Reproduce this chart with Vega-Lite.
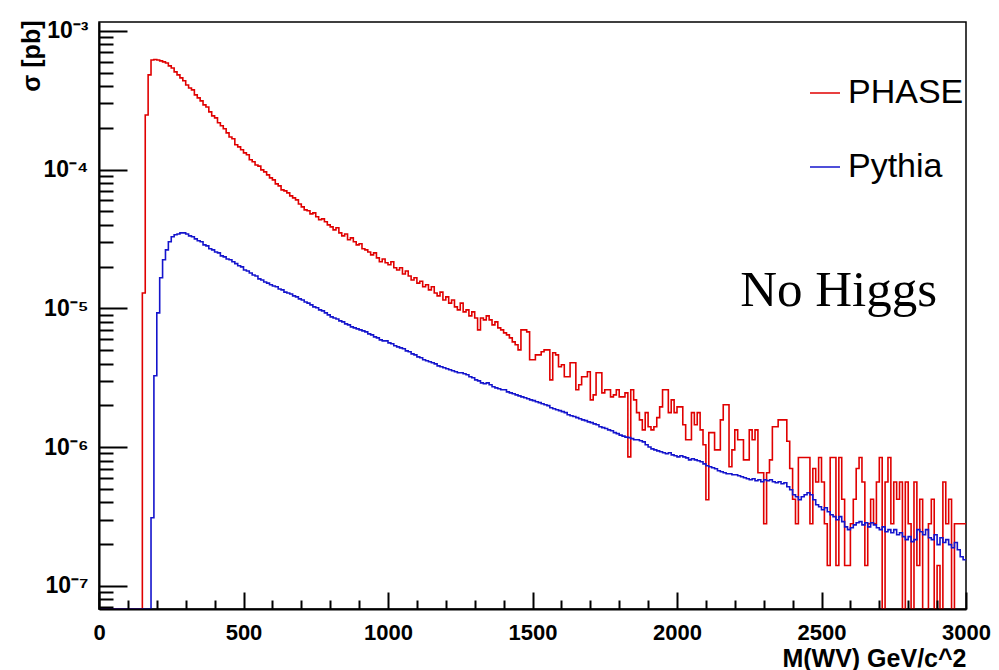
{
  "$schema": "https://vega.github.io/schema/vega-lite/v6.json",
  "width": 867,
  "height": 587,
  "autosize": {"type": "none"},
  "padding": {"left": 99, "top": 22, "right": 33, "bottom": 61},
  "background": "white",
  "config": {"view": {"stroke": "black", "strokeWidth": 1.5}, "font": "Liberation Sans"},
  "datasets": {
    "bins": [
{"m":0,"PHASE":6.8e-8,"Pythia":6.8e-8},{"m":10,"PHASE":6.8e-8,"Pythia":6.8e-8},{"m":20,"PHASE":6.8e-8,"Pythia":6.8e-8},{"m":30,"PHASE":6.8e-8,"Pythia":6.8e-8},{"m":40,"PHASE":6.8e-8,"Pythia":6.8e-8},{"m":50,"PHASE":6.8e-8,"Pythia":6.8e-8},{"m":60,"PHASE":6.8e-8,"Pythia":6.8e-8},{"m":70,"PHASE":6.8e-8,"Pythia":6.8e-8},{"m":80,"PHASE":6.8e-8,"Pythia":6.8e-8},{"m":90,"PHASE":6.8e-8,"Pythia":6.8e-8},
{"m":100,"PHASE":6.8e-8,"Pythia":6.8e-8},{"m":110,"PHASE":6.8e-8,"Pythia":6.8e-8},{"m":120,"PHASE":6.8e-8,"Pythia":6.8e-8},{"m":130,"PHASE":6.8e-8,"Pythia":6.8e-8},{"m":140,"PHASE":6.8e-8,"Pythia":6.8e-8},{"m":150,"PHASE":1.29e-5,"Pythia":6.8e-8},{"m":160,"PHASE":2.48e-4,"Pythia":6.8e-8},{"m":170,"PHASE":4.82e-4,"Pythia":6.8e-8},{"m":180,"PHASE":6.18e-4,"Pythia":3.09e-7},{"m":190,"PHASE":6.22e-4,"Pythia":3.27e-6},
{"m":200,"PHASE":6.18e-4,"Pythia":9.27e-6},{"m":210,"PHASE":6.08e-4,"Pythia":1.66e-5},{"m":220,"PHASE":5.98e-4,"Pythia":2.24e-5},{"m":230,"PHASE":5.88e-4,"Pythia":2.64e-5},{"m":240,"PHASE":5.60e-4,"Pythia":3.02e-5},{"m":250,"PHASE":5.41e-4,"Pythia":3.28e-5},{"m":260,"PHASE":5.07e-4,"Pythia":3.39e-5},{"m":270,"PHASE":4.82e-4,"Pythia":3.44e-5},{"m":280,"PHASE":4.59e-4,"Pythia":3.50e-5},{"m":290,"PHASE":4.37e-4,"Pythia":3.50e-5},
{"m":300,"PHASE":4.08e-4,"Pythia":3.44e-5},{"m":310,"PHASE":3.88e-4,"Pythia":3.33e-5},{"m":320,"PHASE":3.76e-4,"Pythia":3.28e-5},{"m":330,"PHASE":3.46e-4,"Pythia":3.17e-5},{"m":340,"PHASE":3.29e-4,"Pythia":3.07e-5},{"m":350,"PHASE":3.13e-4,"Pythia":3.02e-5},{"m":360,"PHASE":2.93e-4,"Pythia":2.87e-5},{"m":370,"PHASE":2.83e-4,"Pythia":2.82e-5},{"m":380,"PHASE":2.61e-4,"Pythia":2.69e-5},{"m":390,"PHASE":2.44e-4,"Pythia":2.64e-5},
{"m":400,"PHASE":2.36e-4,"Pythia":2.55e-5},{"m":410,"PHASE":2.18e-4,"Pythia":2.51e-5},{"m":420,"PHASE":2.07e-4,"Pythia":2.39e-5},{"m":430,"PHASE":1.97e-4,"Pythia":2.35e-5},{"m":440,"PHASE":1.84e-4,"Pythia":2.27e-5},{"m":450,"PHASE":1.72e-4,"Pythia":2.24e-5},{"m":460,"PHASE":1.67e-4,"Pythia":2.17e-5},{"m":470,"PHASE":1.51e-4,"Pythia":2.10e-5},{"m":480,"PHASE":1.46e-4,"Pythia":2.03e-5},{"m":490,"PHASE":1.39e-4,"Pythia":1.99e-5},
{"m":500,"PHASE":1.32e-4,"Pythia":1.89e-5},{"m":510,"PHASE":1.28e-4,"Pythia":1.86e-5},{"m":520,"PHASE":1.18e-4,"Pythia":1.80e-5},{"m":530,"PHASE":1.14e-4,"Pythia":1.74e-5},{"m":540,"PHASE":1.08e-4,"Pythia":1.71e-5},{"m":550,"PHASE":1.06e-4,"Pythia":1.63e-5},{"m":560,"PHASE":9.96e-5,"Pythia":1.60e-5},{"m":570,"PHASE":9.63e-5,"Pythia":1.55e-5},{"m":580,"PHASE":9.17e-5,"Pythia":1.52e-5},{"m":590,"PHASE":8.72e-5,"Pythia":1.48e-5},
{"m":600,"PHASE":8.44e-5,"Pythia":1.45e-5},{"m":610,"PHASE":7.90e-5,"Pythia":1.43e-5},{"m":620,"PHASE":7.64e-5,"Pythia":1.38e-5},{"m":630,"PHASE":7.15e-5,"Pythia":1.36e-5},{"m":640,"PHASE":7.03e-5,"Pythia":1.31e-5},{"m":650,"PHASE":6.80e-5,"Pythia":1.29e-5},{"m":660,"PHASE":6.47e-5,"Pythia":1.27e-5},{"m":670,"PHASE":6.26e-5,"Pythia":1.23e-5},{"m":680,"PHASE":6.05e-5,"Pythia":1.21e-5},{"m":690,"PHASE":5.66e-5,"Pythia":1.17e-5},
{"m":700,"PHASE":5.39e-5,"Pythia":1.15e-5},{"m":710,"PHASE":5.13e-5,"Pythia":1.11e-5},{"m":720,"PHASE":5.05e-5,"Pythia":1.09e-5},{"m":730,"PHASE":4.80e-5,"Pythia":1.06e-5},{"m":740,"PHASE":4.88e-5,"Pythia":1.025e-5},{"m":750,"PHASE":4.57e-5,"Pythia":1.01e-5},{"m":760,"PHASE":4.35e-5,"Pythia":9.75e-6},{"m":770,"PHASE":4.42e-5,"Pythia":9.59e-6},{"m":780,"PHASE":4.21e-5,"Pythia":9.27e-6},{"m":790,"PHASE":4.00e-5,"Pythia":8.97e-6},
{"m":800,"PHASE":3.87e-5,"Pythia":8.68e-6},{"m":810,"PHASE":3.68e-5,"Pythia":8.53e-6},{"m":820,"PHASE":3.81e-5,"Pythia":8.39e-6},{"m":830,"PHASE":3.50e-5,"Pythia":8.12e-6},{"m":840,"PHASE":3.33e-5,"Pythia":7.99e-6},{"m":850,"PHASE":3.44e-5,"Pythia":7.73e-6},{"m":860,"PHASE":3.12e-5,"Pythia":7.60e-6},{"m":870,"PHASE":3.22e-5,"Pythia":7.35e-6},{"m":880,"PHASE":3.02e-5,"Pythia":7.23e-6},{"m":890,"PHASE":2.87e-5,"Pythia":7.11e-6},
{"m":900,"PHASE":2.92e-5,"Pythia":7.00e-6},{"m":910,"PHASE":2.69e-5,"Pythia":6.88e-6},{"m":920,"PHASE":2.64e-5,"Pythia":6.77e-6},{"m":930,"PHASE":2.55e-5,"Pythia":6.55e-6},{"m":940,"PHASE":2.43e-5,"Pythia":6.44e-6},{"m":950,"PHASE":2.51e-5,"Pythia":6.23e-6},{"m":960,"PHASE":2.31e-5,"Pythia":6.13e-6},{"m":970,"PHASE":2.17e-5,"Pythia":5.93e-6},{"m":980,"PHASE":2.27e-5,"Pythia":5.83e-6},{"m":990,"PHASE":2.13e-5,"Pythia":5.83e-6},
{"m":1000,"PHASE":2.06e-5,"Pythia":5.64e-6},{"m":1010,"PHASE":2.17e-5,"Pythia":5.55e-6},{"m":1020,"PHASE":1.96e-5,"Pythia":5.37e-6},{"m":1030,"PHASE":1.89e-5,"Pythia":5.28e-6},{"m":1040,"PHASE":1.96e-5,"Pythia":5.19e-6},{"m":1050,"PHASE":1.77e-5,"Pythia":5.11e-6},{"m":1060,"PHASE":1.86e-5,"Pythia":4.94e-6},{"m":1070,"PHASE":1.71e-5,"Pythia":4.86e-6},{"m":1080,"PHASE":1.60e-5,"Pythia":4.70e-6},{"m":1090,"PHASE":1.66e-5,"Pythia":4.62e-6},
{"m":1100,"PHASE":1.52e-5,"Pythia":4.47e-6},{"m":1110,"PHASE":1.57e-5,"Pythia":4.40e-6},{"m":1120,"PHASE":1.43e-5,"Pythia":4.26e-6},{"m":1130,"PHASE":1.48e-5,"Pythia":4.19e-6},{"m":1140,"PHASE":1.36e-5,"Pythia":4.12e-6},{"m":1150,"PHASE":1.43e-5,"Pythia":4.05e-6},{"m":1160,"PHASE":1.29e-5,"Pythia":3.98e-6},{"m":1170,"PHASE":1.23e-5,"Pythia":3.85e-6},{"m":1180,"PHASE":1.31e-5,"Pythia":3.79e-6},{"m":1190,"PHASE":1.15e-5,"Pythia":3.73e-6},
{"m":1200,"PHASE":1.21e-5,"Pythia":3.67e-6},{"m":1210,"PHASE":1.09e-5,"Pythia":3.61e-6},{"m":1220,"PHASE":1.15e-5,"Pythia":3.55e-6},{"m":1230,"PHASE":1.025e-5,"Pythia":3.49e-6},{"m":1240,"PHASE":9.75e-6,"Pythia":3.43e-6},{"m":1250,"PHASE":1.09e-5,"Pythia":3.43e-6},{"m":1260,"PHASE":9.43e-6,"Pythia":3.38e-6},{"m":1270,"PHASE":9.75e-6,"Pythia":3.32e-6},{"m":1280,"PHASE":8.82e-6,"Pythia":3.21e-6},{"m":1290,"PHASE":9.43e-6,"Pythia":3.16e-6},
{"m":1300,"PHASE":8.53e-6,"Pythia":3.05e-6},{"m":1310,"PHASE":7.00e-6,"Pythia":3.00e-6},{"m":1320,"PHASE":8.53e-6,"Pythia":2.90e-6},{"m":1330,"PHASE":8.26e-6,"Pythia":2.86e-6},{"m":1340,"PHASE":8.82e-6,"Pythia":2.90e-6},{"m":1350,"PHASE":8.26e-6,"Pythia":2.81e-6},{"m":1360,"PHASE":7.60e-6,"Pythia":2.72e-6},{"m":1370,"PHASE":7.99e-6,"Pythia":2.67e-6},{"m":1380,"PHASE":7.23e-6,"Pythia":2.63e-6},{"m":1390,"PHASE":7.00e-6,"Pythia":2.59e-6},
{"m":1400,"PHASE":6.66e-6,"Pythia":2.59e-6},{"m":1410,"PHASE":6.44e-6,"Pythia":2.50e-6},{"m":1420,"PHASE":6.13e-6,"Pythia":2.46e-6},{"m":1430,"PHASE":5.73e-6,"Pythia":2.42e-6},{"m":1440,"PHASE":5.46e-6,"Pythia":2.38e-6},{"m":1450,"PHASE":5.02e-6,"Pythia":2.34e-6},{"m":1460,"PHASE":7.00e-6,"Pythia":2.30e-6},{"m":1470,"PHASE":7.00e-6,"Pythia":2.27e-6},{"m":1480,"PHASE":6.77e-6,"Pythia":2.23e-6},{"m":1490,"PHASE":4.26e-6,"Pythia":2.19e-6},
{"m":1500,"PHASE":4.26e-6,"Pythia":2.16e-6},{"m":1510,"PHASE":4.62e-6,"Pythia":2.12e-6},{"m":1520,"PHASE":4.62e-6,"Pythia":2.09e-6},{"m":1530,"PHASE":4.86e-6,"Pythia":2.05e-6},{"m":1540,"PHASE":5.02e-6,"Pythia":2.02e-6},{"m":1550,"PHASE":5.02e-6,"Pythia":1.99e-6},{"m":1560,"PHASE":3.05e-6,"Pythia":1.92e-6},{"m":1570,"PHASE":4.78e-6,"Pythia":1.89e-6},{"m":1580,"PHASE":4.62e-6,"Pythia":1.86e-6},{"m":1590,"PHASE":3.79e-6,"Pythia":1.83e-6},
{"m":1600,"PHASE":3.92e-6,"Pythia":1.80e-6},{"m":1610,"PHASE":3.21e-6,"Pythia":1.77e-6},{"m":1620,"PHASE":3.21e-6,"Pythia":1.71e-6},{"m":1630,"PHASE":4.05e-6,"Pythia":1.68e-6},{"m":1640,"PHASE":4.05e-6,"Pythia":1.66e-6},{"m":1650,"PHASE":2.59e-6,"Pythia":1.63e-6},{"m":1660,"PHASE":2.81e-6,"Pythia":1.60e-6},{"m":1670,"PHASE":3.21e-6,"Pythia":1.57e-6},{"m":1680,"PHASE":3.21e-6,"Pythia":1.55e-6},{"m":1690,"PHASE":3.49e-6,"Pythia":1.52e-6},
{"m":1700,"PHASE":2.19e-6,"Pythia":1.50e-6},{"m":1710,"PHASE":2.38e-6,"Pythia":1.47e-6},{"m":1720,"PHASE":3.43e-6,"Pythia":1.45e-6},{"m":1730,"PHASE":3.43e-6,"Pythia":1.40e-6},{"m":1740,"PHASE":2.46e-6,"Pythia":1.38e-6},{"m":1750,"PHASE":2.59e-6,"Pythia":1.36e-6},{"m":1760,"PHASE":2.59e-6,"Pythia":1.33e-6},{"m":1770,"PHASE":2.30e-6,"Pythia":1.31e-6},{"m":1780,"PHASE":2.38e-6,"Pythia":1.27e-6},{"m":1790,"PHASE":2.59e-6,"Pythia":1.25e-6},
{"m":1800,"PHASE":2.30e-6,"Pythia":1.22e-6},{"m":1810,"PHASE":2.30e-6,"Pythia":1.20e-6},{"m":1820,"PHASE":2.46e-6,"Pythia":1.18e-6},{"m":1830,"PHASE":8.50e-7,"Pythia":1.17e-6},{"m":1840,"PHASE":2.59e-6,"Pythia":1.15e-6},{"m":1850,"PHASE":2.19e-6,"Pythia":1.13e-6},{"m":1860,"PHASE":1.77e-6,"Pythia":1.13e-6},{"m":1870,"PHASE":1.57e-6,"Pythia":1.11e-6},{"m":1880,"PHASE":1.33e-6,"Pythia":1.09e-6},{"m":1890,"PHASE":1.77e-6,"Pythia":1.04e-6},
{"m":1900,"PHASE":1.40e-6,"Pythia":1.00e-6},{"m":1910,"PHASE":1.33e-6,"Pythia":9.70e-7},{"m":1920,"PHASE":1.40e-6,"Pythia":9.55e-7},{"m":1930,"PHASE":1.63e-6,"Pythia":9.39e-7},{"m":1940,"PHASE":1.95e-6,"Pythia":9.24e-7},{"m":1950,"PHASE":2.59e-6,"Pythia":9.09e-7},{"m":1960,"PHASE":2.59e-6,"Pythia":8.94e-7},{"m":1970,"PHASE":1.77e-6,"Pythia":9.09e-7},{"m":1980,"PHASE":2.19e-6,"Pythia":8.79e-7},{"m":1990,"PHASE":1.77e-6,"Pythia":8.65e-7},
{"m":2000,"PHASE":1.95e-6,"Pythia":8.50e-7},{"m":2010,"PHASE":1.95e-6,"Pythia":8.65e-7},{"m":2020,"PHASE":1.45e-6,"Pythia":8.50e-7},{"m":2030,"PHASE":1.13e-6,"Pythia":8.36e-7},{"m":2040,"PHASE":1.13e-6,"Pythia":8.09e-7},{"m":2050,"PHASE":1.77e-6,"Pythia":8.23e-7},{"m":2060,"PHASE":1.45e-6,"Pythia":8.09e-7},{"m":2070,"PHASE":1.77e-6,"Pythia":7.96e-7},{"m":2080,"PHASE":1.33e-6,"Pythia":7.83e-7},{"m":2090,"PHASE":1.04e-6,"Pythia":7.57e-7},
{"m":2100,"PHASE":4.17e-7,"Pythia":7.33e-7},{"m":2110,"PHASE":1.27e-6,"Pythia":7.21e-7},{"m":2120,"PHASE":1.27e-6,"Pythia":7.09e-7},{"m":2130,"PHASE":9.55e-7,"Pythia":6.97e-7},{"m":2140,"PHASE":9.55e-7,"Pythia":6.75e-7},{"m":2150,"PHASE":1.57e-6,"Pythia":6.63e-7},{"m":2160,"PHASE":2.02e-6,"Pythia":6.53e-7},{"m":2170,"PHASE":2.02e-6,"Pythia":6.42e-7},{"m":2180,"PHASE":7.21e-7,"Pythia":6.42e-7},{"m":2190,"PHASE":9.55e-7,"Pythia":6.31e-7},
{"m":2200,"PHASE":1.33e-6,"Pythia":6.31e-7},{"m":2210,"PHASE":1.13e-6,"Pythia":6.21e-7},{"m":2220,"PHASE":1.13e-6,"Pythia":6.11e-7},{"m":2230,"PHASE":8.09e-7,"Pythia":6.01e-7},{"m":2240,"PHASE":8.09e-7,"Pythia":5.91e-7},{"m":2250,"PHASE":1.33e-6,"Pythia":5.81e-7},{"m":2260,"PHASE":1.13e-6,"Pythia":5.91e-7},{"m":2270,"PHASE":1.33e-6,"Pythia":5.71e-7},{"m":2280,"PHASE":6.53e-7,"Pythia":5.81e-7},{"m":2290,"PHASE":6.53e-7,"Pythia":5.62e-7},
{"m":2300,"PHASE":2.80e-7,"Pythia":5.81e-7},{"m":2310,"PHASE":6.53e-7,"Pythia":5.71e-7},{"m":2320,"PHASE":8.09e-7,"Pythia":5.81e-7},{"m":2330,"PHASE":1.40e-6,"Pythia":5.62e-7},{"m":2340,"PHASE":1.40e-6,"Pythia":5.53e-7},{"m":2350,"PHASE":1.57e-6,"Pythia":5.62e-7},{"m":2360,"PHASE":1.57e-6,"Pythia":5.44e-7},{"m":2370,"PHASE":1.57e-6,"Pythia":5.53e-7},{"m":2380,"PHASE":1.10e-6,"Pythia":5.17e-7},{"m":2390,"PHASE":7.00e-7,"Pythia":4.92e-7},
{"m":2400,"PHASE":4.20e-7,"Pythia":4.53e-7},{"m":2410,"PHASE":2.80e-7,"Pythia":4.38e-7},{"m":2420,"PHASE":8.40e-7,"Pythia":4.17e-7},{"m":2430,"PHASE":8.40e-7,"Pythia":4.38e-7},{"m":2440,"PHASE":8.40e-7,"Pythia":4.53e-7},{"m":2450,"PHASE":8.40e-7,"Pythia":4.68e-7},{"m":2460,"PHASE":2.80e-7,"Pythia":4.53e-7},{"m":2470,"PHASE":7.00e-7,"Pythia":4.17e-7},{"m":2480,"PHASE":5.60e-7,"Pythia":3.84e-7},{"m":2490,"PHASE":8.40e-7,"Pythia":3.71e-7},
{"m":2500,"PHASE":5.60e-7,"Pythia":3.53e-7},{"m":2510,"PHASE":2.80e-7,"Pythia":3.65e-7},{"m":2520,"PHASE":1.40e-7,"Pythia":3.42e-7},{"m":2530,"PHASE":8.40e-7,"Pythia":3.25e-7},{"m":2540,"PHASE":8.40e-7,"Pythia":3.15e-7},{"m":2550,"PHASE":1.40e-7,"Pythia":2.99e-7},{"m":2560,"PHASE":8.40e-7,"Pythia":3.15e-7},{"m":2570,"PHASE":4.20e-7,"Pythia":2.90e-7},{"m":2580,"PHASE":1.40e-7,"Pythia":2.66e-7},{"m":2590,"PHASE":1.40e-7,"Pythia":2.54e-7},
{"m":2600,"PHASE":2.80e-7,"Pythia":2.62e-7},{"m":2610,"PHASE":4.20e-7,"Pythia":2.75e-7},{"m":2620,"PHASE":7.00e-7,"Pythia":2.85e-7},{"m":2630,"PHASE":8.40e-7,"Pythia":2.90e-7},{"m":2640,"PHASE":5.60e-7,"Pythia":2.75e-7},{"m":2650,"PHASE":1.40e-7,"Pythia":2.85e-7},{"m":2660,"PHASE":2.80e-7,"Pythia":2.66e-7},{"m":2670,"PHASE":4.20e-7,"Pythia":2.85e-7},{"m":2680,"PHASE":2.80e-7,"Pythia":2.75e-7},{"m":2690,"PHASE":5.60e-7,"Pythia":2.62e-7},
{"m":2700,"PHASE":8.40e-7,"Pythia":2.54e-7},{"m":2710,"PHASE":6.8e-8,"Pythia":2.66e-7},{"m":2720,"PHASE":5.60e-7,"Pythia":2.45e-7},{"m":2730,"PHASE":8.40e-7,"Pythia":2.54e-7},{"m":2740,"PHASE":2.80e-7,"Pythia":2.41e-7},{"m":2750,"PHASE":5.60e-7,"Pythia":2.54e-7},{"m":2760,"PHASE":4.20e-7,"Pythia":2.33e-7},{"m":2770,"PHASE":5.60e-7,"Pythia":2.41e-7},{"m":2780,"PHASE":6.8e-8,"Pythia":2.26e-7},{"m":2790,"PHASE":5.60e-7,"Pythia":2.15e-7},
{"m":2800,"PHASE":2.80e-7,"Pythia":2.26e-7},{"m":2810,"PHASE":6.8e-8,"Pythia":2.08e-7},{"m":2820,"PHASE":5.60e-7,"Pythia":2.15e-7},{"m":2830,"PHASE":1.40e-7,"Pythia":2.54e-7},{"m":2840,"PHASE":4.20e-7,"Pythia":2.45e-7},{"m":2850,"PHASE":6.8e-8,"Pythia":2.33e-7},{"m":2860,"PHASE":6.8e-8,"Pythia":2.54e-7},{"m":2870,"PHASE":2.80e-7,"Pythia":2.22e-7},{"m":2880,"PHASE":4.20e-7,"Pythia":2.15e-7},{"m":2890,"PHASE":6.8e-8,"Pythia":2.33e-7},
{"m":2900,"PHASE":1.40e-7,"Pythia":1.98e-7},{"m":2910,"PHASE":6.8e-8,"Pythia":2.22e-7},{"m":2920,"PHASE":5.60e-7,"Pythia":2.05e-7},{"m":2930,"PHASE":2.80e-7,"Pythia":2.15e-7},{"m":2940,"PHASE":4.20e-7,"Pythia":1.98e-7},{"m":2950,"PHASE":6.8e-8,"Pythia":1.88e-7},{"m":2960,"PHASE":2.80e-7,"Pythia":2.05e-7},{"m":2970,"PHASE":2.80e-7,"Pythia":1.82e-7},{"m":2980,"PHASE":2.80e-7,"Pythia":1.62e-7},{"m":2990,"PHASE":2.80e-7,"Pythia":1.54e-7},
{"m":3000,"PHASE":2.80e-7,"Pythia":1.54e-7}
    ],
    "note": [{"m": 2900, "v": 1.04e-5, "t": "No Higgs"}]
  },
  "layer": [
    {
      "data": {"name": "bins"},
      "transform": [{"fold": ["PHASE", "Pythia"], "as": ["series", "value"]}],
      "mark": {"type": "line", "interpolate": "step-after", "strokeWidth": 1.6, "clip": true},
      "encoding": {
        "x": {
          "field": "m", "type": "quantitative",
          "scale": {"domain": [0, 3000], "nice": false, "zero": false},
          "axis": {
            "orient": "bottom", "values": [0, 500, 1000, 1500, 2000, 2500, 3000], "format": "d",
            "grid": false, "tickSize": -17, "tickWidth": 2, "tickColor": "black",
            "domainColor": "black", "domainWidth": 2, "zindex": 1,
            "labelFont": "Liberation Sans", "labelFontSize": 22, "labelFontWeight": "bold", "labelColor": "black",
            "labelPadding": 30, "labelFlush": false, "labelOverlap": false, "labelBound": false,
            "title": "M(WV) GeV/c^2", "titleFont": "Liberation Sans", "titleFontSize": 25, "titleFontWeight": "bold", "titleColor": "black",
            "titleAnchor": "end", "titleAlign": "right", "titleBaseline": "middle", "titleX": 867, "titleY": 49
          }
        },
        "y": {
          "field": "value", "type": "quantitative",
          "scale": {"type": "log", "domain": [6.8e-8, 1.16e-3], "nice": false},
          "axis": {
            "orient": "left", "values": [1e-7, 1e-6, 1e-5, 1e-4, 1e-3],
            "labelExpr": "datum.value >= 9e-4 ? '10⁻³' : datum.value >= 9e-5 ? '10⁻⁴' : datum.value >= 9e-6 ? '10⁻⁵' : datum.value >= 9e-7 ? '10⁻⁶' : '10⁻⁷'",
            "grid": false, "tickSize": -28, "tickWidth": 2, "tickColor": "black",
            "domainColor": "black", "domainWidth": 2, "zindex": 1,
            "labelFont": "Liberation Sans", "labelFontSize": 23, "labelFontWeight": "bold", "labelColor": "black",
            "labelPadding": 39, "labelOverlap": false, "labelBound": false, "labelFlush": false, "labelBaseline": "middle",
            "title": "σ [pb]", "titleFont": "Liberation Sans", "titleFontSize": 25, "titleFontWeight": "bold", "titleColor": "black",
            "titleAngle": -90, "titleAlign": "right", "titleBaseline": "middle", "titleX": -68, "titleY": -2
          }
        },
        "color": {
          "field": "series", "type": "nominal",
          "scale": {"domain": ["PHASE", "Pythia"], "range": ["#e00000", "#1414cc"]},
          "legend": {
            "orient": "none", "legendX": 709, "legendY": 54, "title": null,
            "labelFont": "Liberation Sans", "labelFontSize": 34, "labelColor": "black", "labelOffset": 6,
            "symbolType": "stroke", "symbolSize": 900, "symbolStrokeWidth": 1.5, "rowPadding": 40
          }
        }
      }
    },
    {
      "data": {"name": "note"},
      "mark": {"type": "text", "font": "Liberation Serif", "fontSize": 51, "align": "right", "baseline": "alphabetic", "color": "black"},
      "encoding": {
        "x": {
          "field": "m", "type": "quantitative",
          "scale": {"domain": [0, 3000], "nice": false, "zero": false},
          "axis": {
            "orient": "bottom", "values": [100, 200, 300, 400, 600, 700, 800, 900, 1100, 1200, 1300, 1400, 1600, 1700, 1800, 1900, 2100, 2200, 2300, 2400, 2600, 2700, 2800, 2900],
            "tickSize": -9, "tickWidth": 2, "tickColor": "black", "labels": false, "domain": false, "grid": false, "title": null, "zindex": 1
          }
        },
        "y": {
          "field": "v", "type": "quantitative",
          "scale": {"type": "log", "domain": [6.8e-8, 1.16e-3], "nice": false},
          "axis": {
            "orient": "left", "values": [7e-8, 8e-8, 9e-8, 2e-7, 3e-7, 4e-7, 5e-7, 6e-7, 7e-7, 8e-7, 9e-7, 2e-6, 3e-6, 4e-6, 5e-6, 6e-6, 7e-6, 8e-6, 9e-6, 2e-5, 3e-5, 4e-5, 5e-5, 6e-5, 7e-5, 8e-5, 9e-5, 2e-4, 3e-4, 4e-4, 5e-4, 6e-4, 7e-4, 8e-4, 9e-4],
            "tickSize": -14, "tickWidth": 2, "tickColor": "black", "labels": false, "domain": false, "grid": false, "title": null, "zindex": 1
          }
        },
        "text": {"field": "t", "type": "nominal"}
      }
    }
  ],
  "resolve": {"axis": {"x": "independent", "y": "independent"}}
}
